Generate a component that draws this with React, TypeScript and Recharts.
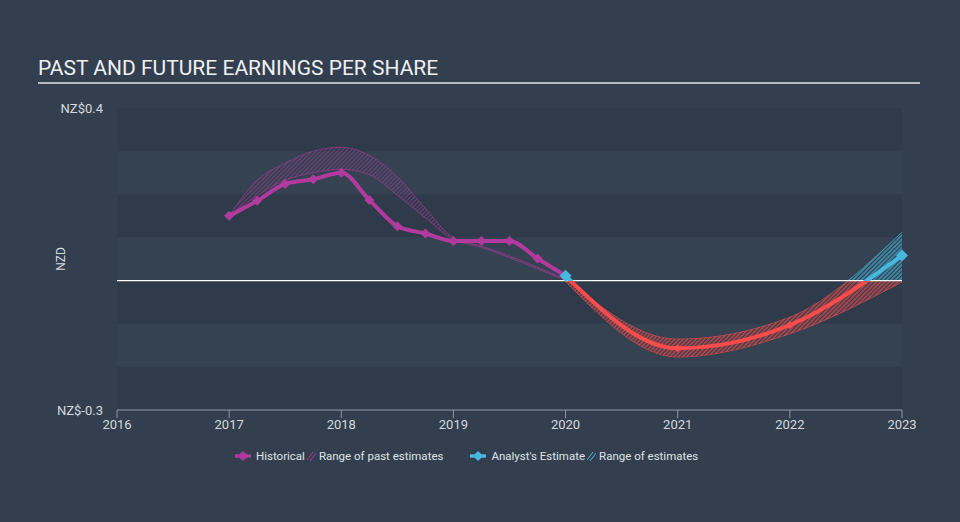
import React from 'react';
import { ComposedChart, Line, Area, XAxis, YAxis, ReferenceArea, ReferenceLine } from 'recharts';

// quarterly historical EPS (NZ$)
const historicalYears = [2017, 2017.25, 2017.5, 2017.75, 2018, 2018.25, 2018.5, 2018.75, 2019, 2019.25, 2019.5, 2019.75, 2020];
const historicalEps = [0.15, 0.185, 0.224, 0.235, 0.25, 0.187, 0.126, 0.109, 0.092, 0.092, 0.092, 0.051, 0.011];
const pastRangeLow = [0.15, 0.197, 0.233, 0.25, 0.258, 0.245, 0.198, 0.145, 0.095, 0.077, 0.053, 0.027, 0.0];
const pastRangeHigh = [0.15, 0.233, 0.272, 0.3, 0.309, 0.29, 0.241, 0.167, 0.099, 0.08, 0.057, 0.031, 0.003];

// analyst estimates
const estimateYears = [2020, 2021, 2022, 2023];
const estimateEps = [0.011, -0.157, -0.103, 0.058];
const estimateLow = [-0.002, -0.177, -0.123, -0.003];
const estimateHigh = [0.004, -0.136, -0.085, 0.112];

const xTicks = [2016, 2017, 2018, 2019, 2020, 2021, 2022, 2023];
const yTicks = [-0.3, 0.4];
const darkBands = [[0.3, 0.4], [0.1, 0.2], [-0.1, 0], [-0.3, -0.2]];
const lightBands = [[0.2, 0.3], [0, 0.1], [-0.2, -0.1]];

const PURPLE = '#b23a9f';
const RED = '#fc4b4b';
const BLUE = '#47b9e1';
const BG = '#333f4e';

const W = 960;
const H = 522;
const MARGIN = { top: 108, right: 58, bottom: 82, left: 57 };
const Y_AXIS_W = 60;
const X_AXIS_H = 30;
const Y_MIN = -0.3;
const Y_MAX = 0.4;
const PLOT_TOP = MARGIN.top;
const PLOT_BOTTOM = H - MARGIN.bottom - X_AXIS_H;
const ZERO_Y = PLOT_TOP + ((PLOT_BOTTOM - PLOT_TOP) * Y_MAX) / (Y_MAX - Y_MIN);

const historicalData = historicalYears.map((x, i) => ({
  x,
  eps: historicalEps[i],
  range: [pastRangeLow[i], pastRangeHigh[i]],
}));
const estimateData = estimateYears.map((x, i) => ({
  x,
  eps: estimateEps[i],
  range: [estimateLow[i], estimateHigh[i]],
}));

const Diamond = ({ cx, cy, r, color }: { cx: number; cy: number; r: number; color: string }) => (
  <path d={`M${cx},${cy - r}L${cx + r},${cy}L${cx},${cy + r}L${cx - r},${cy}Z`} fill={color} />
);

const LegendLineIcon = ({ color }: { color: string }) => (
  <svg width="18" height="12" style={{ marginRight: 4 }}>
    <line x1="1" y1="6" x2="17" y2="6" stroke={color} strokeWidth="3.5" />
    <path d="M9,1L14,6L9,11L4,6Z" fill={color} />
  </svg>
);

const LegendHatchIcon = ({ color }: { color: string }) => (
  <svg width="9" height="10" style={{ margin: '0 3px 0 2px' }}>
    <line x1="0" y1="9" x2="6" y2="1" stroke={color} strokeWidth="1" />
    <line x1="3" y1="10" x2="9" y2="2" stroke={color} strokeWidth="1" />
  </svg>
);

const NzdLabel = (props: any) => {
  const vb = props.viewBox || {};
  const x = vb.x + 4;
  const y = vb.y + vb.height / 2;
  return (
    <text x={x} y={y} transform={`rotate(-90 ${x} ${y})`} textAnchor="middle" dominantBaseline="central" fill="#d5d9de" fontSize={12}>
      NZD
    </text>
  );
};

const App: React.FC = () => {
  return (
    <div style={{ position: 'absolute', left: 0, top: 0, width: W, height: H, background: BG, fontFamily: 'Roboto, sans-serif', overflow: 'hidden' }}>
      <div style={{ position: 'absolute', left: 38, top: 55, width: 882, color: '#eef0f2', fontSize: 21, lineHeight: '26px', borderBottom: '2px solid #b3b9c1', paddingBottom: 1 }}>
        PAST AND FUTURE EARNINGS PER SHARE
      </div>
      <div style={{ position: 'absolute', left: 0, top: 0 }}>
        <ComposedChart width={W} height={H} margin={MARGIN}>
          <defs>
            <pattern id="pastHatch" width="3" height="3" patternUnits="userSpaceOnUse" patternTransform="rotate(45)">
              <line x1="0" y1="0" x2="0" y2="3" stroke={PURPLE} strokeWidth="1.2" />
            </pattern>
            <pattern id="darkStripes" width="3" height="3" patternUnits="userSpaceOnUse" patternTransform="rotate(45)">
              <line x1="1.5" y1="0" x2="1.5" y2="3" stroke="#313d4c" strokeWidth="1.6" />
            </pattern>
            <linearGradient id="signStroke" gradientUnits="userSpaceOnUse" x1="0" y1={ZERO_Y - 0.5} x2="0" y2={ZERO_Y + 0.5}>
              <stop offset="0" stopColor={BLUE} />
              <stop offset="0.5" stopColor={BLUE} />
              <stop offset="0.5" stopColor={RED} />
              <stop offset="1" stopColor={RED} />
            </linearGradient>
          </defs>
          {darkBands.map(([a, b]) => (
            <ReferenceArea key={`d${a}`} y1={a} y2={b} fill="#2f3b4a" fillOpacity={1} stroke="none" />
          ))}
          {lightBands.map(([a, b]) => (
            <ReferenceArea key={`l${a}`} y1={a} y2={b} fill="#354251" fillOpacity={1} stroke="none" />
          ))}
          <ReferenceLine y={0} stroke="#ffffff" strokeWidth={1.2} />
          <XAxis
            type="number"
            dataKey="x"
            domain={[2016, 2023]}
            ticks={xTicks}
            height={X_AXIS_H}
            axisLine={{ stroke: '#8e9aa8' }}
            tickLine={{ stroke: '#8e9aa8' }}
            tickSize={8}
            tickMargin={2}
            tick={{ fill: '#d5d9de', fontSize: 13 }}
          />
          <YAxis
            type="number"
            domain={[Y_MIN, Y_MAX]}
            ticks={yTicks}
            width={Y_AXIS_W}
            axisLine={false}
            tickLine={false}
            tickSize={0}
            tickMargin={14}
            tick={{ fill: '#d5d9de', fontSize: 13 }}
            tickFormatter={(v: number) => `NZ$${v}`}
            label={{ content: NzdLabel }}
          />
          <Area
            data={historicalData}
            dataKey="range"
            type="monotone"
            fill="url(#pastHatch)"
            fillOpacity={0.9}
            stroke={PURPLE}
            strokeWidth={0.7}
            strokeOpacity={0.8}
            isAnimationActive={false}
          />
          <Area
            data={estimateData}
            dataKey="range"
            type="monotone"
            fill="url(#signStroke)"
            fillOpacity={0.8}
            stroke="url(#signStroke)"
            strokeWidth={0.8}
            isAnimationActive={false}
          />
          <Area
            data={estimateData}
            dataKey="range"
            type="monotone"
            fill="url(#darkStripes)"
            fillOpacity={1}
            stroke="none"
            isAnimationActive={false}
          />
          <Line
            data={historicalData}
            dataKey="eps"
            type="monotone"
            stroke={PURPLE}
            strokeWidth={4}
            dot={(p: any) => <Diamond key={`h${p.index}`} cx={p.cx} cy={p.cy} r={5} color={PURPLE} />}
            activeDot={false}
            isAnimationActive={false}
          />
          <Line
            data={estimateData}
            dataKey="eps"
            type="monotone"
            stroke="url(#signStroke)"
            strokeWidth={4}
            dot={(p: any) => {
              const end = p.index === 0 || p.index === estimateData.length - 1;
              return (
                <Diamond
                  key={`e${p.index}`}
                  cx={p.cx}
                  cy={p.cy}
                  r={end ? 6 : 4}
                  color={p.value >= 0 ? BLUE : RED}
                />
              );
            }}
            activeDot={false}
            isAnimationActive={false}
          />
        </ComposedChart>
      </div>
      <div style={{ position: 'absolute', left: 234, top: 449, display: 'flex', alignItems: 'center', color: '#dfe3e7', fontSize: 11.5, whiteSpace: 'nowrap' }}>
        <LegendLineIcon color={PURPLE} />
        <span>Historical</span>
        <LegendHatchIcon color={PURPLE} />
        <span>Range of past estimates</span>
        <span style={{ width: 26 }} />
        <LegendLineIcon color={BLUE} />
        <span>Analyst's Estimate</span>
        <LegendHatchIcon color={BLUE} />
        <span>Range of estimates</span>
      </div>
    </div>
  );
};

export default App;
